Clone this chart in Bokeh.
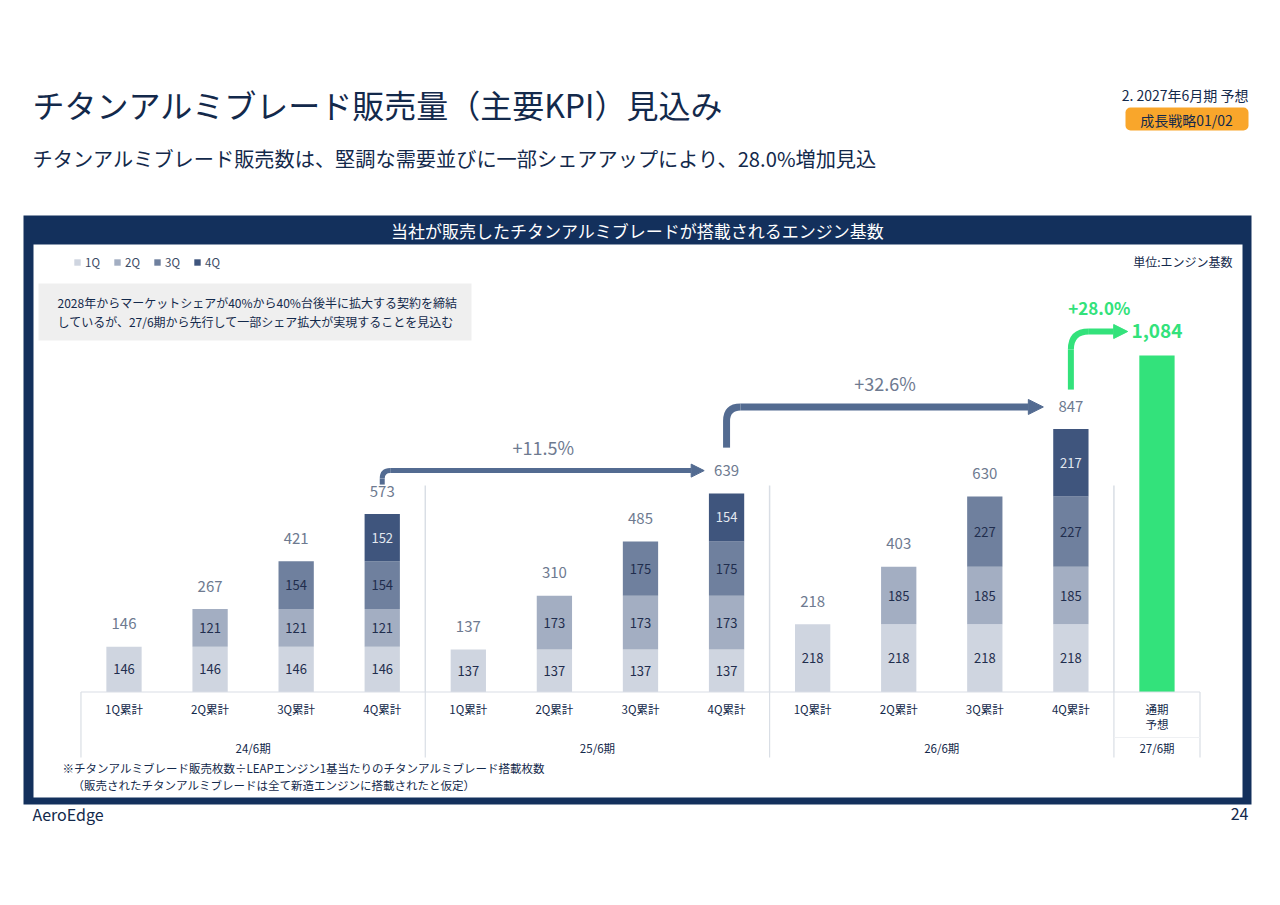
from bokeh.plotting import figure
from bokeh.models import Range1d, ColumnDataSource, Arrow, NormalHead, BoxAnnotation
from bokeh.core.properties import value
from bokeh.embed import file_html
from bokeh.resources import INLINE

# --- data ---
quarters = ["1Q", "2Q", "3Q", "4Q"]
bar_labels = ["1Q累計", "2Q累計", "3Q累計", "4Q累計"] * 3 + ["通期\n予想"]
periods = ["24/6期", "25/6期", "26/6期", "27/6期"]
period_sizes = [4, 4, 4, 1]
q1 = [146, 146, 146, 146, 137, 137, 137, 137, 218, 218, 218, 218]
q2 = [0, 121, 121, 121, 0, 173, 173, 173, 0, 185, 185, 185]
q3 = [0, 0, 154, 154, 0, 0, 175, 175, 0, 0, 227, 227]
q4 = [0, 0, 0, 152, 0, 0, 0, 154, 0, 0, 0, 217]
totals = [146, 267, 421, 573, 137, 310, 485, 639, 218, 403, 630, 847]
forecast = 1084
growth = ["+11.5%", "+32.6%", "+28.0%"]

FONT = "Noto Sans CJK JP"
NAVY = "#13305C"
INK = "#13294B"
Q_COLORS = ["#CFD5E0", "#A3AEC2", "#6F809E", "#3F557D"]
GREEN = "#33E27B"
STEEL = "#536B91"
GREY = "#6E7A90"
LINE = "#D9DEE5"

# page geometry (page pixels), bars sit on BASE_Y
W, H = 1272, 897
X0, STEP = 123.5, 86.08      # centre of first bar, bar spacing
BASE_Y, PPU = 691.5, 0.3105  # baseline, pixels per engine

p = figure(width=W, height=H, output_backend="svg", toolbar_location=None,
           x_range=Range1d(0, W), y_range=Range1d(H, 0),
           min_border=0, outline_line_color=None)
p.axis.visible = False
p.grid.visible = False
p.extra_x_ranges = {"idx": Range1d(-X0 / STEP, (W - X0) / STEP)}
p.extra_y_ranges = {"val": Range1d((BASE_Y - H) / PPU, BASE_Y / PPU)}


def put(x, y, s, size, color, align="left", baseline="middle", bold=False,
        xr="default", yr="default", **kw):
    p.text(x=[x], y=[y], text=[s], text_font=value(FONT),
           text_font_size=f"{size}px", text_color=color, text_align=align,
           text_baseline=baseline, text_font_style="bold" if bold else "normal",
           x_range_name=xr, y_range_name=yr, **kw)


# header
put(32, 103, "チタンアルミブレード販売量（主要KPI）見込み", 32, INK)
put(32, 158, "チタンアルミブレード販売数は、堅調な需要並びに一部シェアアップにより、28.0%増加見込", 20.2, INK)
put(1248, 94, "2. 2027年6月期 予想", 14, INK, align="right")
p.add_layout(BoxAnnotation(left=1125, right=1248, top=107, bottom=130,
                           fill_color="#F9A62B", fill_alpha=1, line_color=None,
                           border_radius=5, level="underlay"))
put(1186, 119, "成長戦略01/02", 14, INK, align="center")

# panel frame
p.quad(left=[23], right=[1251], top=[215], bottom=[804], fill_color=NAVY, line_color=None)
p.quad(left=[33], right=[1242], top=[244], bottom=[797], fill_color="white", line_color=None)
put(637, 230, "当社が販売したチタンアルミブレードが搭載されるエンジン基数", 17, "white", align="center")
put(1232, 261, "単位:エンジン基数", 12, INK, align="right")

# note box
p.quad(left=[38], right=[471], top=[283], bottom=[340], fill_color="#EFEFEF", line_color=None)
put(57, 302, "2028年からマーケットシェアが40%から40%台後半に拡大する契約を締結", 12, INK)
put(57, 321, "しているが、27/6期から先行して一部シェア拡大が実現することを見込む", 12, INK)

# stacked bars
n = len(totals)
src = ColumnDataSource(dict(x=list(range(n)), **dict(zip(quarters, [q1, q2, q3, q4]))))
p.vbar_stack(quarters, x="x", width=0.41, source=src, color=Q_COLORS, line_color=None,
             x_range_name="idx", y_range_name="val", legend_label=quarters)
p.vbar(x=[n], top=[forecast], width=0.41, color=GREEN, line_color=None,
       x_range_name="idx", y_range_name="val")

# values inside segments
sx, sy, st, sc = [], [], [], []
for i in range(n):
    base = 0
    for k, series in enumerate([q1, q2, q3, q4]):
        v = series[i]
        if v:
            sx.append(i)
            sy.append(base + v / 2)
            st.append(str(v))
            sc.append("#E3E8F0" if k == 3 else "#1F2D4D")
        base += v
p.text(x=sx, y=sy, text=st, text_color=sc, text_font=value(FONT), text_font_size="13px",
       text_align="center", text_baseline="middle", x_range_name="idx", y_range_name="val")

# totals above bars
p.text(x=list(range(n)), y=totals, text=[str(t) for t in totals], text_color=GREY,
       text_font=value(FONT), text_font_size="15px", text_align="center",
       text_baseline="middle", y_offset=-23, x_range_name="idx", y_range_name="val")
put(n, forecast, f"{forecast:,}", 19, GREEN, align="center", bold=True,
    xr="idx", yr="val", y_offset=-24)

# growth arrows: (from bar, start, level, tip, corner px, width, colour, text, size, bold)
arrows = [
    (3, 668, 713, 6.74, 8, 5, STEEL, growth[0], 18, False),
    (7, 787, 918, 10.68, 14, 7, STEEL, growth[1], 18, False),
    (11, 974, 1161, 11.66, 18, 6, GREEN, growth[2], 17, True),
]
for i0, y0, lvl, tip, r, w, col, txt, fs, bold in arrows:
    rx, ry = r / STEP, r / PPU
    p.segment(x0=[i0], y0=[y0], x1=[i0], y1=[lvl - ry], line_color=col, line_width=w,
              x_range_name="idx", y_range_name="val")
    p.quadratic(x0=[i0], y0=[lvl - ry], x1=[i0 + rx], y1=[lvl], cx=[i0], cy=[lvl],
                line_color=col, line_width=w, x_range_name="idx", y_range_name="val")
    p.add_layout(Arrow(x_start=i0 + rx, y_start=lvl, x_end=tip, y_end=lvl,
                       line_color=col, line_width=w,
                       end=NormalHead(size=w + 8, fill_color=col, line_color=col),
                       x_range_name="idx", y_range_name="val"))
    put((i0 + tip) / 2, lvl, txt, fs, col if bold else GREY, align="center", bold=bold,
        xr="idx", yr="val", y_offset=-24)

# category table
edges = [-0.5]
for s in period_sizes:
    edges.append(edges[-1] + s)
p.segment(x0=[-0.5], y0=[691.5], x1=[n + 0.5], y1=[691.5], line_color=LINE,
          line_width=1.2, x_range_name="idx")
p.segment(x0=edges, y0=[691.5] * len(edges), x1=edges, y1=[757] * len(edges),
          line_color=LINE, line_width=1.2, x_range_name="idx")
p.segment(x0=edges[1:-1], y0=[485] * 3, x1=edges[1:-1], y1=[691.5] * 3,
          line_color=LINE, line_width=1.5, x_range_name="idx")
p.segment(x0=[edges[-2]], y0=[737], x1=[edges[-1]], y1=[737], line_color="#EEF0F3",
          line_width=1, x_range_name="idx")
p.text(x=list(range(n + 1)), y=[700] * (n + 1), text=bar_labels, text_color=INK,
       text_font=value(FONT), text_font_size="11.5px", text_align="center",
       text_baseline="top", text_line_height=0.95, x_range_name="idx")
mids = [(edges[j] + edges[j + 1]) / 2 for j in range(len(periods))]
p.text(x=mids, y=[747] * len(periods), text=periods, text_color=INK,
       text_font=value(FONT), text_font_size="11.5px", text_align="center",
       text_baseline="middle", x_range_name="idx")

# footnotes and footer
put(62, 767, "※チタンアルミブレード販売枚数÷LEAPエンジン1基当たりのチタンアルミブレード搭載枚数", 11.5, INK)
put(72, 784, "（販売されたチタンアルミブレードは全て新造エンジンに搭載されたと仮定）", 11.5, INK)
put(32, 813, "AeroEdge", 16, INK)
put(1248, 813, "24", 16, INK, align="right")

# legend
lg = p.legend[0]
lg.location = (73, H - 270)
lg.orientation = "horizontal"
lg.glyph_width = 8
lg.glyph_height = 8
lg.label_standoff = 4
lg.spacing = 8
lg.padding = 0
lg.margin = 0
lg.label_height = 14
lg.label_text_font = FONT
lg.label_text_font_size = "11.5px"
lg.label_text_color = "#3B4A63"
lg.border_line_color = None
lg.background_fill_alpha = 0

open("out.html", "w").write(file_html(p, INLINE))
